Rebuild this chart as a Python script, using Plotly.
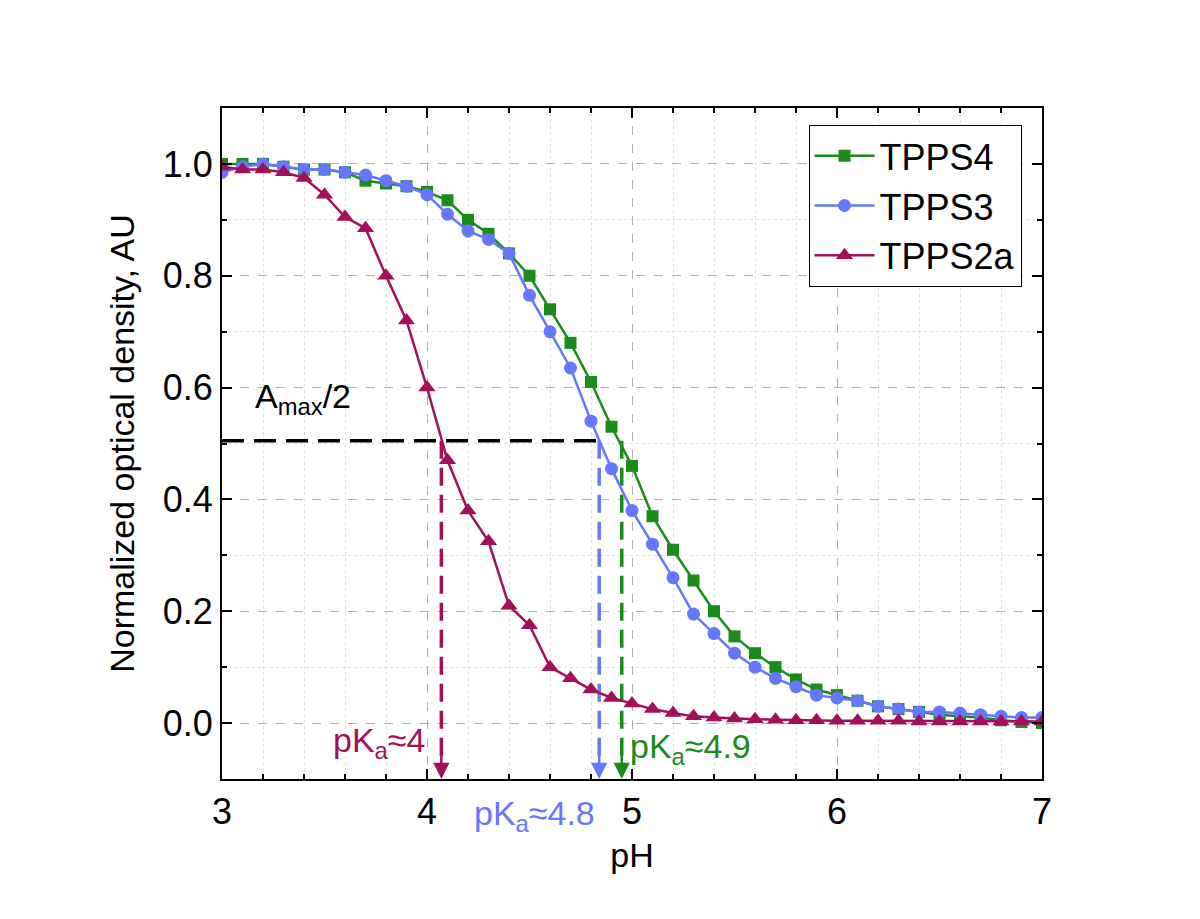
import plotly.graph_objects as go

ph = [round(3.0 + 0.1 * i, 1) for i in range(41)]

tpps4 = [1.0, 1.0, 1.0, 0.995, 0.99, 0.99, 0.985, 0.97, 0.965, 0.96, 0.95, 0.935, 0.90, 0.875, 0.84,
         0.80, 0.74, 0.68, 0.61, 0.53, 0.46, 0.37, 0.31, 0.255, 0.20, 0.155, 0.125, 0.10, 0.078, 0.06,
         0.05, 0.04, 0.03, 0.025, 0.02, 0.015, 0.012, 0.01, 0.005, 0.002, 0.0]
tpps3 = [0.985, 0.995, 1.0, 0.995, 0.99, 0.99, 0.985, 0.98, 0.97, 0.96, 0.945, 0.91, 0.88, 0.865, 0.84,
         0.765, 0.70, 0.635, 0.54, 0.455, 0.38, 0.32, 0.26, 0.195, 0.16, 0.125, 0.10, 0.08, 0.065, 0.05,
         0.045, 0.04, 0.03, 0.025, 0.02, 0.02, 0.018, 0.015, 0.012, 0.01, 0.01]
tpps2a = [0.995, 0.99, 0.99, 0.985, 0.975, 0.945, 0.905, 0.885, 0.80, 0.72, 0.60, 0.47, 0.38, 0.325, 0.21,
          0.175, 0.10, 0.08, 0.06, 0.045, 0.035, 0.025, 0.018, 0.012, 0.01, 0.008, 0.007, 0.006, 0.005, 0.005,
          0.004, 0.004, 0.004, 0.004, 0.003, 0.003, 0.003, 0.003, 0.003, 0.003, 0.003]

half = 0.505
pka = [4.07, 4.84, 4.95]
green, blue, purple = "#1a8c1a", "#6677ff", "#a3105a"
fam = "Liberation Sans, Arial"

fig = go.Figure()
fig.add_trace(go.Scatter(x=[3, 4.86], y=[half, half], mode="lines", showlegend=False,
                         line=dict(color="black", width=3.5, dash="22px,10px")))
for xv, c in zip(pka, [purple, blue, green]):
    fig.add_trace(go.Scatter(x=[xv, xv], y=[half, -0.07], mode="lines", showlegend=False,
                             line=dict(color=c, width=3.5, dash="18px,9px")))
    fig.add_annotation(x=xv, y=-0.1, ax=xv, ay=-0.055, xref="x", yref="y", axref="x", ayref="y",
                       showarrow=True, arrowhead=2, arrowsize=1.3, arrowwidth=2.5, arrowcolor=c, text="")

fig.add_trace(go.Scatter(x=ph, y=tpps4, name="TPPS4", mode="lines+markers",
                         line=dict(color=green, width=2.5), marker=dict(symbol="square", size=12, color=green)))
fig.add_trace(go.Scatter(x=ph, y=tpps3, name="TPPS3", mode="lines+markers",
                         line=dict(color=blue, width=2.5), marker=dict(symbol="circle", size=13, color=blue)))
fig.add_trace(go.Scatter(x=ph, y=tpps2a, name="TPPS2a", mode="lines+markers",
                         line=dict(color=purple, width=2.5), marker=dict(symbol="triangle-up", size=15, color=purple)))

fig.add_annotation(x=3.15, y=0.58, text="A<sub>max</sub>/2", showarrow=False, xanchor="left",
                   font=dict(family=fam, size=34, color="black"))
fig.add_annotation(x=4.0, y=-0.035, text="pK<sub>a</sub>≈4", showarrow=False, xanchor="right",
                   font=dict(family=fam, size=34, color=purple))
fig.add_annotation(x=4.83, y=-0.02, xref="x", yref="paper", text="pK<sub>a</sub>≈4.8", showarrow=False,
                   xanchor="right", yanchor="top", font=dict(family=fam, size=34, color=blue))
fig.add_annotation(x=4.98, y=-0.045, text="pK<sub>a</sub>≈4.9", showarrow=False, xanchor="left",
                   font=dict(family=fam, size=34, color=green))

axis = dict(showline=True, linecolor="black", linewidth=2, mirror="ticks", ticks="inside",
            ticklen=10, tickwidth=2, tickcolor="black", showgrid=True, gridcolor="#b0b0b0",
            griddash="dash", gridwidth=1, zeroline=False, tickfont=dict(family=fam, size=36, color="black"),
            minor=dict(ticks="inside", ticklen=5, tickcolor="black", showgrid=True,
                       gridcolor="#e0e0e0", griddash="dot"))
fig.update_layout(
    width=1200, height=919, plot_bgcolor="white", paper_bgcolor="white",
    font=dict(family=fam, color="black", size=34),
    margin=dict(l=214, r=166, t=100, b=148),
    xaxis=dict(axis, range=[3, 7], dtick=1, title=dict(text="pH", font=dict(size=34), standoff=12),
               minor=dict(axis["minor"], dtick=0.2)),
    yaxis=dict(axis, range=[-0.1, 1.1], dtick=0.2, tickformat=".1f",
               title=dict(text="Normalized optical density, AU", font=dict(size=34), standoff=18),
               minor=dict(axis["minor"], dtick=0.1)),
    legend=dict(x=0.975, y=0.975, xanchor="right", yanchor="top", bordercolor="black", borderwidth=1,
                bgcolor="white", font=dict(family=fam, size=36), tracegroupgap=0, itemwidth=60),
)
fig.write_html("out.html")
